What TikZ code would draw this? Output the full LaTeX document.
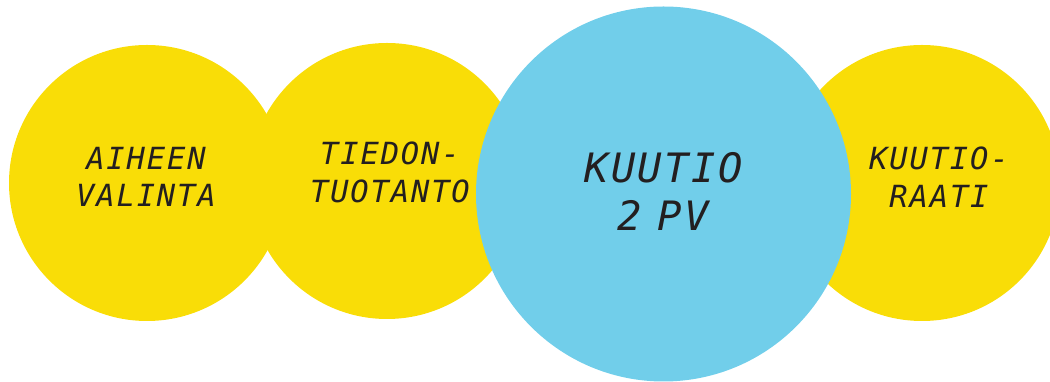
\documentclass[tikz,border=0pt]{standalone}
\usepackage{fontspec}
\usetikzlibrary{positioning, backgrounds}
\newfontfamily\kuutiofont{DejaVu Sans Mono}[LetterSpace=6]
\definecolor{keltainen}{HTML}{F9DD07}
\definecolor{sininen}{HTML}{71CEEA}
\definecolor{tumma}{HTML}{231F20}
\tikzset{
x=1pt, y=1pt, % one unit is one point
pallo/.style={circle, inner sep=0pt, outer sep=0pt, fill=keltainen}, % yellow step circles
isopallo/.style={pallo, fill=sininen}, % the big blue one
teksti/.style={align=center, inner sep=0pt, text=tumma, font=\kuutiofont\itshape\fontsize{30.5}{37.5}\selectfont}, % circle texts
isoteksti/.style={teksti, font=\kuutiofont\itshape\fontsize{40.5}{48}\selectfont},
}
\begin{document}
\begin{tikzpicture}
            \useasboundingbox (0,0) rectangle (1050,382);
            \node[pallo, minimum size=276pt] (aiheen) at (147,199) {};
            \node[pallo, minimum size=276pt, right=-36pt of aiheen, yshift=2pt] (tiedon) {};
            \node[isopallo, minimum size=375pt, right=-49pt of tiedon, yshift=-13pt] (kuutio) {};
            \begin{scope}[on background layer]
                \node[pallo, minimum size=276pt, right=-67pt of kuutio, yshift=11pt] (raati) {};
            \end{scope}

            \node[teksti] (aiheenteksti) at ([shift={(-1pt,6pt)}]aiheen.center) {AIHEEN\\VALINTA};
            \node[teksti] (tiedonteksti) at ([shift={(3pt,8.5pt)}]tiedon.center) {TIEDON-\\TUOTANTO};
            \node[isoteksti] (kuutioteksti) at ([shift={(0pt,2.5pt)}]kuutio.center) {KUUTIO\\2\kern-11pt\ PV};
            \node[teksti] (raatiteksti) at ([shift={(17pt,6pt)}]raati.center) {KUUTIO-\\RAATI};
        \end{tikzpicture}
\end{document}
